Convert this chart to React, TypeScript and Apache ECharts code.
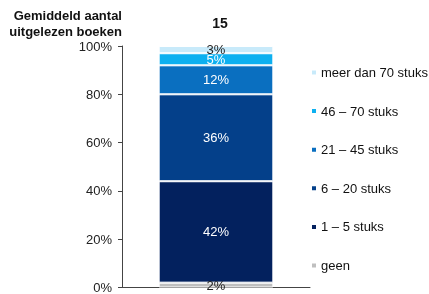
import React, { useEffect, useRef } from "react";
import * as echarts from "echarts";

const categories = ["15"];
const seriesNames = ["geen", "1 – 5 stuks", "6 – 20 stuks", "21 – 45 stuks", "46 – 70 stuks", "meer dan 70 stuks"];
const seriesValues = [[2], [42], [36], [12], [5], [3]];
const seriesColors = ["#BFBFBF", "#03215E", "#04408A", "#0A6FC0", "#0DB0F0", "#C8EAFA"];
const labelColors = ["#222", "#fff", "#fff", "#fff", "#fff", "#222"];
const yTicks = [0, 20, 40, 60, 80, 100];

export default function App() {
  const ref = useRef<HTMLDivElement>(null);
  useEffect(() => {
    const chart = echarts.init(ref.current!, null, { renderer: "svg" });
    const font = "Liberation Sans, Arial, sans-serif";
    chart.setOption({
      animation: false,
      textStyle: { fontFamily: font },
      title: [
        {
          text: categories[0],
          left: 215,
          top: 11,
          textAlign: "center",
          textStyle: { fontSize: 14, fontWeight: "bold", color: "#111", fontFamily: font },
        },
      ],
      graphic: [
        {
          type: "text",
          x: 122,
          y: 7,
          style: {
            text: "Gemiddeld aantal\nuitgelezen boeken",
            align: "right",
            verticalAlign: "top",
            font: `bold 13px ${font}`,
            lineHeight: 16,
            fill: "#111",
          },
        },
      ],
      legend: {
        orient: "vertical",
        left: 305,
        top: 61,
        itemWidth: 6,
        itemHeight: 6,
        itemGap: 25.6,
        icon: "rect",
        textStyle: { fontSize: 13, color: "#111", padding: [0, 0, 0, -1], fontFamily: font },
        data: [...seriesNames].reverse(),
      },
      grid: { left: 122, right: 119, top: 46, bottom: 4 },
      xAxis: {
        type: "category",
        data: categories,
        axisLine: { show: true, lineStyle: { color: "#444" } },
        axisTick: { show: false },
        axisLabel: { show: false },
      },
      yAxis: {
        type: "value",
        min: yTicks[0],
        max: yTicks[yTicks.length - 1],
        interval: 20,
        splitLine: { show: false },
        axisLine: { show: true, lineStyle: { color: "#444" } },
        axisTick: { show: true, length: 4, lineStyle: { color: "#444" } },
        axisLabel: { formatter: "{value}%", fontSize: 13, color: "#222", margin: 10, fontFamily: font },
      },
      series: seriesNames.map((name, i) => ({
        name,
        type: "bar",
        stack: "total",
        data: seriesValues[i],
        barWidth: "61%",
        itemStyle: { color: seriesColors[i], borderColor: "#fff", borderWidth: 1 },
        label: {
          show: true,
          position: "inside",
          formatter: "{c}%",
          fontSize: 13,
          color: labelColors[i],
          fontFamily: font,
        },
      })),
    });
    return () => chart.dispose();
  }, []);
  return (
    <div
      ref={ref}
      style={{ width: 429, height: 294, position: "fixed", left: 0, top: 0 }}
    />
  );
}
